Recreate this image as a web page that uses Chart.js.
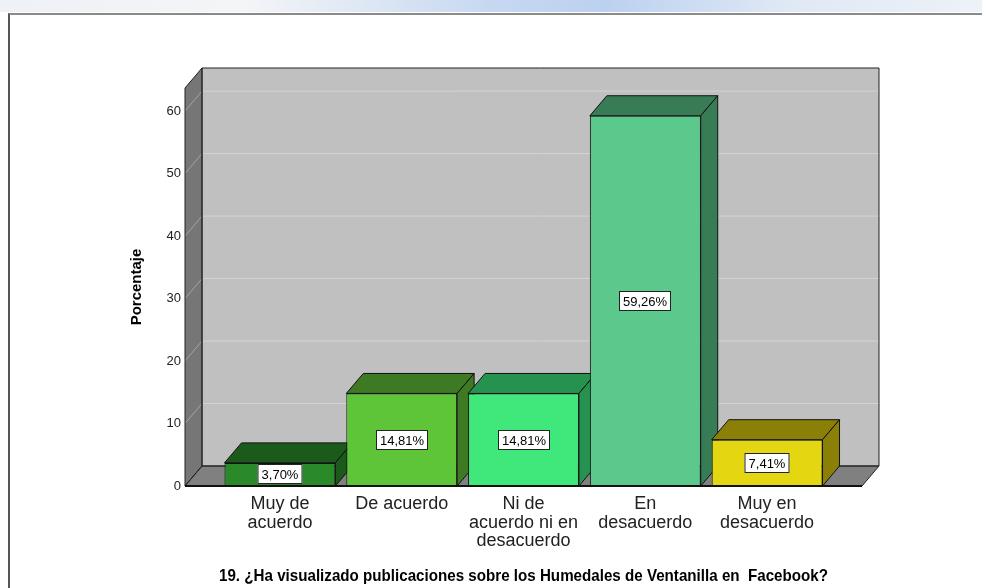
<!DOCTYPE html>
<html>
<head>
<meta charset="utf-8">
<script src="https://cdn.jsdelivr.net/npm/chart.js@4.4.0/dist/chart.umd.min.js"></script>
<style>
html, body { margin:0; padding:0; width:982px; height:588px; overflow:hidden; background:#fff; }
#strip { position:absolute; left:0; top:0; width:982px; height:12px;
  background:linear-gradient(90deg,#eef1f6 0%,#f4f5f7 25%,#c6d8f1 50%,#bcd1f0 62%,#dfe8f5 80%,#eef2f8 100%); }
#frame { position:absolute; left:8px; top:13px; width:990px; height:600px;
  border-top:2px solid #8a8a8a; border-left:2px solid #555; background:#fff; }
#wrap { position:absolute; left:0; top:0; width:982px; height:588px; }
</style>
</head>
<body>
<div id="strip"></div>
<div id="frame"></div>
<div id="wrap"><canvas id="chart" width="982" height="588"></canvas></div>
<script>
// values
var categories = [["Muy de", "acuerdo"], ["De acuerdo"], ["Ni de", "acuerdo ni en", "desacuerdo"], ["En", "desacuerdo"], ["Muy en", "desacuerdo"]];
var percentages = [3.70, 14.81, 14.81, 59.26, 7.41];
var yTicks = [0, 10, 20, 30, 40, 50, 60];
var frontColors = ["#2a8a2a", "#5ec438", "#40e87c", "#5cc98c", "#e4d610"];
var depthColors = ["#1c5a1c", "#3e7a23", "#269250", "#387c56", "#8a8008"];

var DX = 17, DY = -20, SIDE = 34;

Chart.defaults.font.family = "'Liberation Sans', Arial, sans-serif";

function poly(ctx, pts, fill, stroke) {
  ctx.beginPath();
  ctx.moveTo(pts[0][0], pts[0][1]);
  for (var i = 1; i < pts.length; i++) ctx.lineTo(pts[i][0], pts[i][1]);
  ctx.closePath();
  if (fill) { ctx.fillStyle = fill; ctx.fill(); }
  if (stroke) { ctx.strokeStyle = stroke; ctx.lineWidth = 1; ctx.stroke(); }
}

var box3d = {
  id: 'box3d',
  beforeDatasetsDraw: function(chart) {
    var ctx = chart.ctx, a = chart.chartArea, ys = chart.scales.y;
    var L = a.left - SIDE, R = a.right + SIDE, T = a.top, B = a.bottom;
    ctx.save();
    // walls
    poly(ctx, [[L + DX, T + DY], [R + DX, T + DY], [R + DX, B + DY], [L + DX, B + DY]], "#c0c0c0", null);
    poly(ctx, [[L, B], [L, T], [L + DX, T + DY], [L + DX, B + DY]], "#767676", null);
    poly(ctx, [[L, B], [R, B], [R + DX, B + DY], [L + DX, B + DY]], "#808080", null);
    // grid lines
    yTicks.forEach(function(v) {
      if (v === 0) return;
      var py = ys.getPixelForValue(v);
      ctx.strokeStyle = "#d4d4d4"; ctx.lineWidth = 1;
      ctx.beginPath(); ctx.moveTo(L + DX, py + DY); ctx.lineTo(R + DX, py + DY); ctx.stroke();
      ctx.strokeStyle = "#a4a4a4";
      ctx.beginPath(); ctx.moveTo(L, py); ctx.lineTo(L + DX, py + DY); ctx.stroke();
    });
    // outlines
    poly(ctx, [[L + DX, T + DY], [R + DX, T + DY], [R + DX, B + DY], [L + DX, B + DY]], null, "#222");
    poly(ctx, [[L, B], [L, T], [L + DX, T + DY], [L + DX, B + DY]], null, "#222");
    poly(ctx, [[L, B], [R, B], [R + DX, B + DY], [L + DX, B + DY]], null, "#222");
    ctx.strokeStyle = "#111"; ctx.lineWidth = 2;
    ctx.beginPath(); ctx.moveTo(L, B); ctx.lineTo(R, B); ctx.stroke();

    // bar tops and sides
    var meta = chart.getDatasetMeta(0);
    meta.data.forEach(function(bar, i) {
      var x0 = bar.x - bar.width / 2, x1 = bar.x + bar.width / 2;
      poly(ctx, [[x0, bar.y], [x1, bar.y], [x1 + DX, bar.y + DY], [x0 + DX, bar.y + DY]], depthColors[i], "#111");
      poly(ctx, [[x1, bar.y], [x1, bar.base], [x1 + DX, bar.base + DY], [x1 + DX, bar.y + DY]], depthColors[i], "#111");
    });
    ctx.restore();
  },
  afterDatasetsDraw: function(chart) {
    var ctx = chart.ctx;
    var meta = chart.getDatasetMeta(0);
    ctx.save();
    ctx.font = "13px 'Liberation Sans', Arial, sans-serif";
    ctx.textAlign = "center";
    ctx.textBaseline = "middle";
    meta.data.forEach(function(bar, i) {
      var txt = percentages[i].toFixed(2).replace('.', ',') + '%';
      var w = Math.round(ctx.measureText(txt).width) + 8, h = 20;
      var cx = Math.round(bar.x), cy = Math.round((bar.y + bar.base) / 2);
      ctx.fillStyle = "#fff";
      ctx.fillRect(cx - w / 2, cy - h / 2, w, h);
      ctx.strokeStyle = "#222"; ctx.lineWidth = 1;
      ctx.strokeRect(cx - w / 2 + 0.5, cy - h / 2 + 0.5, w - 1, h - 1);
      ctx.fillStyle = "#000";
      ctx.fillText(txt, cx, cy + 1);
    });
    ctx.restore();
  }
};

new Chart(document.getElementById('chart'), {
  type: 'bar',
  data: {
    labels: categories,
    datasets: [{
      data: percentages,
      backgroundColor: frontColors,
      borderColor: "#111",
      borderWidth: 1,
      borderSkipped: false,
      categoryPercentage: 1,
      barPercentage: 0.91
    }]
  },
  options: {
    responsive: false,
    animation: false,
    layout: { padding: { left: 128, right: 154, top: 88, bottom: 0 } },
    plugins: {
      legend: { display: false },
      tooltip: { enabled: false }
    },
    scales: {
      x: {
        grid: { display: false, drawTicks: false },
        border: { display: false },
        ticks: { color: '#222', font: { size: 18, lineHeight: 1.03 }, padding: 9, maxRotation: 0, autoSkip: false },
        title: {
          display: true,
          text: '19. ¿Ha visualizado publicaciones sobre los Humedales de Ventanilla en  Facebook?',
          color: '#000',
          font: { size: 16.2, weight: 'bold' },
          padding: { top: 0, bottom: 1.5 }
        },
        afterFit: function(s) { s.height = 102; }
      },
      y: {
        min: 0,
        max: 63.7,
        grid: { display: false, drawTicks: false },
        border: { display: false },
        ticks: { stepSize: 10, includeBounds: false, padding: 38, color: '#222', font: { size: 13 } },
        title: { display: true, text: 'Porcentaje', color: '#000', font: { size: 15, weight: 'bold' }, padding: { top: 0, bottom: 20 } },
        afterFit: function(s) { s.width = 91; }
      }
    }
  },
  plugins: [box3d]
});
</script>
</body>
</html>
